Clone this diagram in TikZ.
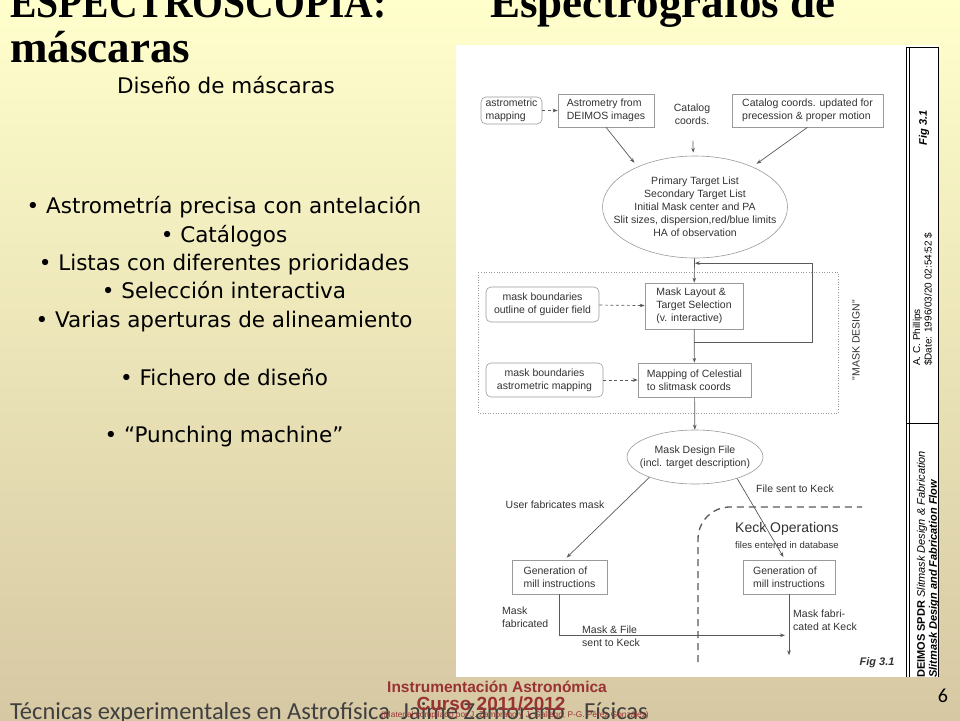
\documentclass[tikz,border=0pt]{standalone}
\usepackage{fontspec}
\setmainfont{DejaVu Sans}
\newfontfamily\titlefont{Liberation Serif}
\newfontfamily\flowfont{Liberation Sans}
\newfontfamily\footfont{Carlito}
\usetikzlibrary{calc, arrows.meta, shapes.geometric}

\definecolor{slidetop}{HTML}{FFFFCC}
\definecolor{slidemid}{HTML}{F2EDC4}
\definecolor{slidebot}{HTML}{D6C8A3}
\definecolor{footred}{HTML}{993333}
\definecolor{boxgray}{HTML}{9A9A9A}
\definecolor{linegray}{HTML}{5A5A5A}
\definecolor{inkgray}{HTML}{333333}

\begin{document}
\begin{tikzpicture}[x=1pt, y=-1pt,
  box/.style={draw=boxgray, line width=0.6pt, fill=white, inner sep=2pt, align=left, text=inkgray, font=\flowfont\fontsize{10.5}{13}\selectfont},
  rbox/.style={box, rounded corners=5pt, align=center},
  oval/.style={box, ellipse, align=center},
  note/.style={text=inkgray, inner sep=0pt, font=\flowfont\fontsize{10.5}{13}\selectfont},
  flow/.style={draw=linegray, line width=0.7pt, -{Stealth[length=5pt,width=3.6pt]}},
  dflow/.style={flow, dash pattern=on 3pt off 2.5pt},
  bullet/.style={anchor=base, inner sep=0pt, font=\fontsize{21.5}{25}\selectfont}]

  % Slide background
  \useasboundingbox (0,0) rectangle (960,720);
  \clip (0,0) rectangle (960,720);
  \shade[top color=slidetop, middle color=slidemid, bottom color=slidebot] (0,0) rectangle (960,720);

  % Title
  \node[anchor=base west, inner sep=0pt, font=\titlefont\bfseries\fontsize{45}{50}\selectfont] (ttlone) at (10,17) {\scalebox{0.88}[1]{ESPECTROSCOPIA:}};
  \node[anchor=base west, inner sep=0pt, font=\titlefont\bfseries\fontsize{45}{50}\selectfont] (ttltwo) at (490,17) {Espectrografos de};
  \node[anchor=base west, inner sep=0pt, font=\titlefont\bfseries\fontsize{45}{50}\selectfont] (ttlthree) at (10,62) {máscaras};

  % Left column
  \node[bullet] (subtitle) at (226,93) {Diseño de máscaras};
  \foreach \yy/\txt in {213/• Astrometría precisa con antelación, 242/• Catálogos,
    270/• Listas con diferentes prioridades, 298/• Selección interactiva,
    327/• Varias aperturas de alineamiento, 385/• Fichero de diseño,
    442/• “Punching machine”}{
    \node[bullet] (item\yy) at (224,\yy) {\txt};
  }

  % Figure panel and side bar
  \fill[white] (456,45) rectangle (938,677);
  \draw[line width=1pt] (906,677) -- (906,47) -- (938,47) -- (938,677);
  \draw[line width=0.5pt] (909,47) -- (909,677);
  \draw[line width=0.8pt] (906,423) -- (938,423);
  \node[rotate=90, inner sep=0pt, font=\flowfont\bfseries\itshape\fontsize{11}{12}\selectfont] (figtag) at (924,128) {Fig 3.1};
  \node[rotate=90, anchor=west, align=left, inner sep=0pt, font=\flowfont\fontsize{10}{11.5}\selectfont] (author) at (922.5,366) {A. C. Phillips\\\$Date: 1996/03/20 02:54:52 \$};
  \node[rotate=90, anchor=west, align=left, inner sep=0pt, font=\flowfont\fontsize{11}{12}\selectfont] (sheet) at (928,678) {\textbf{DEIMOS SPDR} \textit{Slitmask Design \& Fabrication}\\\textbf{\textit{Slitmask Design and Fabrication Flow}}};

  % Mask design frame
  \draw[boxgray, line width=0.6pt, dotted] (478,272) rectangle (838,413);
  \node[note, rotate=90] (maskdesign) at (856,340) {"MASK DESIGN"};

  % Inputs
  \node[rbox, minimum width=61pt, minimum height=27pt, align=left] (astmap) at (511.5,110.5) {astrometric\\mapping};
  \node[box, minimum width=96pt, minimum height=33pt] (astrom) at (606,110.5) {Astrometry from\\DEIMOS images};
  \node[note, align=center] (catcoord) at (692,114) {Catalog\\coords.};
  \node[box, minimum width=151pt, minimum height=33pt] (catupd) at (807.5,110.5) {Catalog coords. updated for\\precession \& proper motion};
  \node[oval, minimum width=184pt, minimum height=102pt, inner xsep=-16pt, inner ysep=3pt] (targets) at (695,207) {Primary Target List\\Secondary Target List\\Initial Mask center and PA\\Slit sizes, dispersion,red/blue limits\\HA of observation};

  % Design steps
  \node[rbox, minimum width=113pt, minimum height=35pt] (guider) at (542.5,304.5) {mask boundaries\\outline of guider field};
  \node[box, minimum width=98pt, minimum height=46pt] (layout) at (694,306) {Mask Layout \&\\Target Selection\\(v. interactive)};
  \node[rbox, minimum width=117pt, minimum height=34pt] (bound) at (544.5,380) {mask boundaries\\astrometric mapping};
  \node[box, minimum width=113pt, minimum height=34pt] (mapping) at (694.5,380) {Mapping of Celestial\\to slitmask coords};
  \node[oval, minimum width=136pt, minimum height=54pt, inner xsep=-10pt, inner ysep=6pt] (maskfile) at (695,457) {Mask Design File\\(incl. target description)};

  % Fabrication
  \node[box, minimum width=95pt, minimum height=34pt] (genuser) at (559.5,577) {Generation of\\mill instructions};
  \node[box, minimum width=92pt, minimum height=34pt] (genkeck) at (789,577) {Generation of\\mill instructions};
  \draw[linegray, line width=1.3pt, dash pattern=on 7pt off 5pt, rounded corners=32pt] (698,662) -- (698,507) -- (862,507);

  % Labels
  \node[note] (userfab) at (555,505) {User fabricates mask};
  \node[note] (sentfile) at (795,489) {File sent to Keck};
  \node[note, anchor=west, font=\flowfont\fontsize{14}{16}\selectfont] (keckops) at (735,529) {Keck Operations};
  \node[note, anchor=west, font=\flowfont\fontsize{9.5}{11}\selectfont] (keckdb) at (735,545) {files entered in database};
  \node[note, anchor=west, align=left] (fabricated) at (502,617) {Mask\\fabricated};
  \node[note, anchor=west, align=left] (shipped) at (582,636) {Mask \& File\\sent to Keck};
  \node[note, anchor=west, align=left] (fabkeck) at (793,620) {Mask fabri-\\cated at Keck};
  \node[note, font=\flowfont\bfseries\itshape\fontsize{11}{12}\selectfont] (figlabel) at (877,663) {Fig 3.1};

  % Connectors
  \draw[dflow] (astmap) -- (astrom);
  \draw[flow, shorten >=5pt] (astrom.south) -- (targets.145);
  \draw[flow, shorten <=16pt, shorten >=3pt] (catcoord) -- (targets);
  \draw[flow, shorten >=5pt] (catupd.south) -- (targets.35);
  \draw[flow] (targets) -- (layout);
  \draw[dflow] (guider) -- (layout);
  \draw[flow] (layout) -- (mapping);
  \draw[dflow] (bound) -- (mapping);
  \draw[flow] (mapping) -- (maskfile);
  \coordinate (fbkout) at ($(layout.south)!0.4!(mapping.north)$);
  \coordinate (fbkin) at ($(targets.south)!0.2!(layout.north)$);
  \draw[flow] (fbkout) -- ++(118,0) |- (fbkin);
  \draw[flow, shorten >=3pt] (maskfile.204) -- ([xshift=5pt]genuser.north);
  \draw[flow, shorten >=3pt] (maskfile.333) -- ([xshift=-4pt]genkeck.north);
  \coordinate (deliver) at ($(genkeck.south)+(-4,41)$);
  \coordinate (fabdone) at ($(genkeck.south)+(0,61)$);
  \draw[flow] (genuser.south) |- (deliver);
  \draw[flow] (genkeck.south) -- (fabdone);

  % Footer
  \node[anchor=base west, inner sep=0pt, text=black!75, font=\footfont\fontsize{24.5}{25}\selectfont] (footleft) at (10,719) {Técnicas experimentales en Astrofísica};
  \node[anchor=base west, inner sep=0pt, text=black!75, font=\footfont\fontsize{24.5}{25}\selectfont] (footmid) at (401,719) {Jaime Zamorano};
  \node[anchor=base west, inner sep=0pt, text=black!75, font=\footfont\fontsize{24.5}{25}\selectfont] (footright) at (584,719) {Físicas};
  \node[anchor=base, inner sep=0pt, text=footred, font=\flowfont\bfseries\fontsize{15.5}{16}\selectfont] (course) at (497,692) {Instrumentación Astronómica};
  \node[anchor=base, inner sep=0pt, text=footred, font=\flowfont\bfseries\fontsize{19}{19}\selectfont] (year) at (491,710) {Curso 2011/2012};
  \node[anchor=base, inner sep=0pt, text=footred, font=\flowfont\fontsize{8.3}{9}\selectfont] (credit) at (515,717) {(Material compilado por J. Zamorano y J. Gallego, P-G. Pérez González)};
  \node[anchor=base, inner sep=0pt, font=\footfont\fontsize{20}{20}\selectfont] (pagenum) at (943,702) {6};
\end{tikzpicture}
\end{document}
